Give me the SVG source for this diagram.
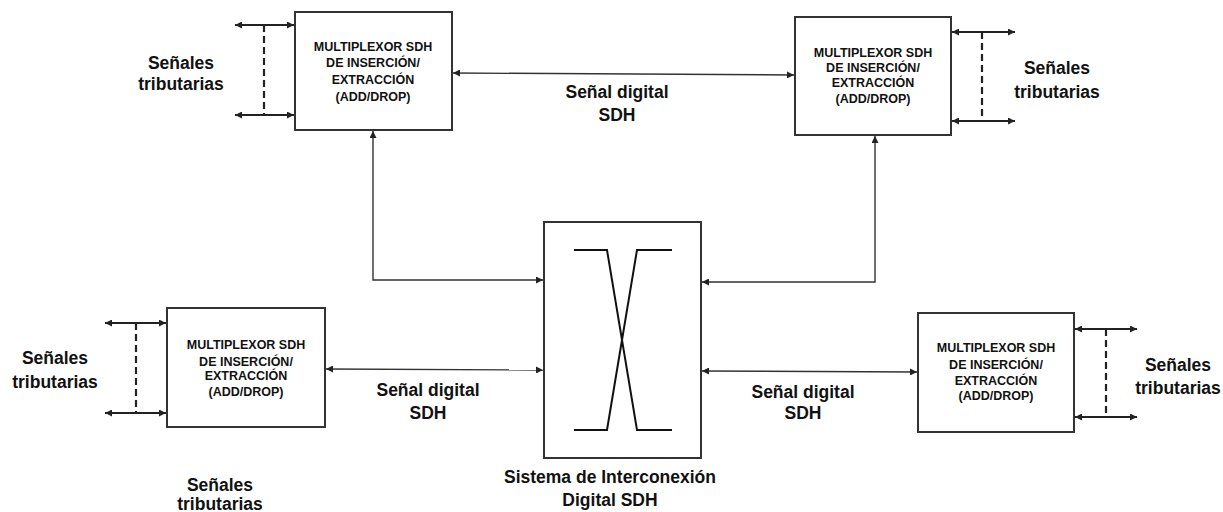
<svg xmlns="http://www.w3.org/2000/svg" width="1223" height="512" viewBox="0 0 1223 512">
<style>
.box{fill:#fff;stroke:#333;stroke-width:2}
.bt{font-family:"Liberation Sans",Arial,sans-serif;font-weight:bold;font-size:12.5px;fill:#111;text-anchor:middle}
.lbl{font-family:"Liberation Sans",Arial,sans-serif;font-weight:bold;font-size:17.5px;fill:#111;text-anchor:middle}
.ln{fill:none;stroke:#333;stroke-width:1.4}
.tl{fill:none;stroke:#222;stroke-width:2}
.ds{fill:none;stroke:#222;stroke-width:2.2;stroke-dasharray:7,4}
.xl{fill:none;stroke:#111;stroke-width:2}
</style>
<defs>
<marker id="ah" viewBox="0 0 10 10" refX="10" refY="5" markerWidth="9" markerHeight="7" markerUnits="userSpaceOnUse" orient="auto-start-reverse">
<path d="M0,0 L10,5 L0,10 Z" fill="#222"/>
</marker>
</defs>
<rect width="1223" height="512" fill="#fff"/>
<g id="connectors">
<line class="ln" x1="453" y1="73" x2="794" y2="75" marker-start="url(#ah)" marker-end="url(#ah)"/>
<polyline class="ln" points="373,131 373,280 543,280" marker-start="url(#ah)" marker-end="url(#ah)"/>
<polyline class="ln" points="875,136 875,282 702,282" marker-start="url(#ah)" marker-end="url(#ah)"/>
<line class="ln" x1="326" y1="369" x2="543" y2="370" marker-start="url(#ah)" marker-end="url(#ah)"/>
<line class="ln" x1="702" y1="371" x2="917" y2="372" marker-start="url(#ah)" marker-end="url(#ah)"/>
</g>
<g id="trib-tl">
<line class="tl" x1="235" y1="25" x2="294" y2="25" marker-start="url(#ah)" marker-end="url(#ah)"/>
<line class="tl" x1="235" y1="115" x2="294" y2="115" marker-start="url(#ah)" marker-end="url(#ah)"/>
<line class="ds" x1="264" y1="25" x2="264" y2="115"/>
<text class="lbl" x="181" y="69">Señales</text>
<text class="lbl" x="181" y="90">tributarias</text>
</g>
<g id="trib-tr">
<line class="tl" x1="952" y1="32" x2="1015" y2="32" marker-start="url(#ah)" marker-end="url(#ah)"/>
<line class="tl" x1="952" y1="121" x2="1015" y2="121" marker-start="url(#ah)" marker-end="url(#ah)"/>
<line class="ds" x1="982" y1="32" x2="982" y2="121"/>
<text class="lbl" x="1057" y="74">Señales</text>
<text class="lbl" x="1057" y="98">tributarias</text>
</g>
<g id="trib-bl">
<line class="tl" x1="105" y1="323" x2="166" y2="323" marker-start="url(#ah)" marker-end="url(#ah)"/>
<line class="tl" x1="105" y1="413" x2="166" y2="413" marker-start="url(#ah)" marker-end="url(#ah)"/>
<line class="ds" x1="136" y1="323" x2="136" y2="413"/>
<text class="lbl" x="55" y="364">Señales</text>
<text class="lbl" x="55" y="388">tributarias</text>
</g>
<g id="trib-br">
<line class="tl" x1="1075" y1="329" x2="1137" y2="329" marker-start="url(#ah)" marker-end="url(#ah)"/>
<line class="tl" x1="1075" y1="417" x2="1137" y2="417" marker-start="url(#ah)" marker-end="url(#ah)"/>
<line class="ds" x1="1106" y1="329" x2="1106" y2="417"/>
<text class="lbl" x="1178" y="371">Señales</text>
<text class="lbl" x="1178" y="394">tributarias</text>
</g>
<g id="trib-extra">
<text class="lbl" x="220" y="491">Señales</text>
<text class="lbl" x="220" y="510">tributarias</text>
</g>
<g id="labels">
<text class="lbl" x="617" y="98">Señal digital</text>
<text class="lbl" x="617" y="121">SDH</text>
<text class="lbl" x="428" y="396">Señal digital</text>
<text class="lbl" x="428" y="419">SDH</text>
<text class="lbl" x="803" y="398">Señal digital</text>
<text class="lbl" x="803" y="419">SDH</text>
</g>
<g id="mux-tl">
<rect class="box" x="295" y="12" width="157" height="118"/>
<text class="bt" x="373" y="51">MULTIPLEXOR SDH</text>
<text class="bt" x="373" y="67">DE INSERCIÓN/</text>
<text class="bt" x="373" y="84">EXTRACCIÓN</text>
<text class="bt" x="373" y="101">(ADD/DROP)</text>
</g>
<g id="mux-tr">
<rect class="box" x="795" y="17" width="156" height="118"/>
<text class="bt" x="873" y="57">MULTIPLEXOR SDH</text>
<text class="bt" x="873" y="72">DE INSERCIÓN/</text>
<text class="bt" x="873" y="87">EXTRACCIÓN</text>
<text class="bt" x="873" y="103">(ADD/DROP)</text>
</g>
<g id="mux-bl">
<rect class="box" x="167" y="308" width="158" height="119"/>
<text class="bt" x="246" y="349">MULTIPLEXOR SDH</text>
<text class="bt" x="246" y="366">DE INSERCIÓN/</text>
<text class="bt" x="246" y="380">EXTRACCIÓN</text>
<text class="bt" x="246" y="396">(ADD/DROP)</text>
</g>
<g id="mux-br">
<rect class="box" x="918" y="313" width="156" height="119"/>
<text class="bt" x="996" y="352">MULTIPLEXOR SDH</text>
<text class="bt" x="996" y="369">DE INSERCIÓN/</text>
<text class="bt" x="996" y="385">EXTRACCIÓN</text>
<text class="bt" x="996" y="400">(ADD/DROP)</text>
</g>
<g id="dxc">
<rect class="box" x="544" y="222" width="157" height="236"/>
<polyline class="xl" points="574,250 607,250 637,430 672,430"/>
<polyline class="xl" points="672,250 637,250 607,430 574,430"/>
<text class="lbl" x="610" y="483">Sistema de Interconexión</text>
<text class="lbl" x="610" y="506">Digital SDH</text>
</g>
</svg>
